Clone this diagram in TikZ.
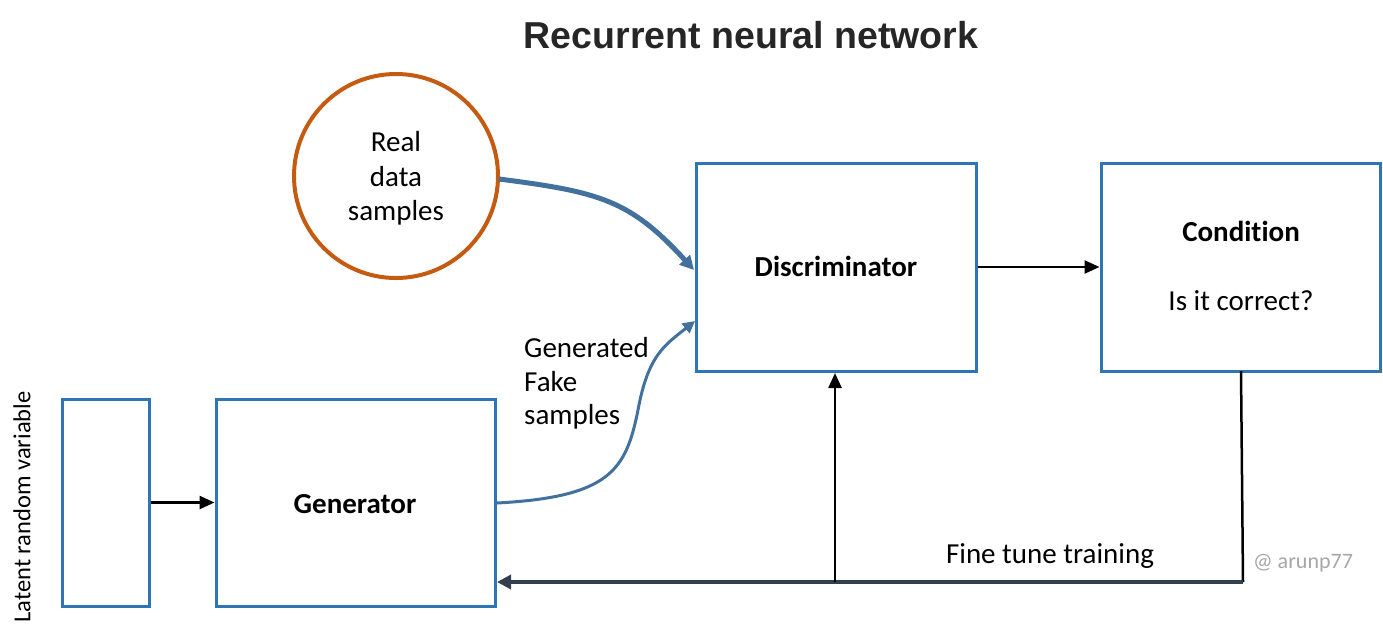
\documentclass[tikz,border=0pt]{standalone}
\usepackage{fontspec}
\setmainfont{Carlito}[Ligatures=NoCommon]
\newfontfamily\titlefont{Liberation Sans}
\usetikzlibrary{arrows.meta}
\definecolor{boxblue}{HTML}{2E75B6}
\definecolor{circorange}{HTML}{C55A11}
\definecolor{curveblue}{HTML}{41719C}
\definecolor{darkline}{HTML}{333F50}
\definecolor{titlegray}{HTML}{262626}
\definecolor{wmgray}{HTML}{A6A6A6}
\tikzset{
  blk/.style={draw=boxblue, line width=3pt, inner sep=0pt},
  txt/.style={font=\fontsize{29}{35}\selectfont, inner sep=0pt, anchor=base},
  bold/.style={font=\fontsize{29}{35}\selectfont\bfseries, inner sep=0pt, anchor=base},
  blackarrow/.style={draw=black, line width=2.5pt, -{Triangle[length=15pt,width=13pt]}},
}
\begin{document}
\begin{tikzpicture}[x=1pt,y=-1pt]
\useasboundingbox (0,0) rectangle (1383,641);
% title
\node[font=\titlefont\fontsize{37.5}{42}\selectfont\bfseries, text=titlegray, inner sep=0pt] (title) at (751,35) {Recurrent neural network};
% circle
\node[draw=circorange, line width=4pt, circle, minimum size=204pt, inner sep=0pt] (real) at (396,176) {};
\node[txt] (real1) at (396,151) {Real};
\node[txt] (real2) at (396,186) {data};
\node[txt] (real3) at (396,220) {samples};
% boxes
\node[blk, minimum width=280pt, minimum height=208pt] (disc) at (836,267) {};
\node[bold] (disctxt) at (836,276) {Discriminator};
\node[blk, minimum width=279pt, minimum height=208pt] (cond) at (1240.5,267) {};
\node[bold] (condtxt) at (1241,241) {Condition};
\node[txt] (condq) at (1241,310) {Is it correct?};
\node[blk, minimum width=87pt, minimum height=207pt] (latent) at (105.5,502.5) {};
\node[blk, minimum width=279pt, minimum height=207pt] (gen) at (355.5,502.5) {};
\node[bold] (gentxt) at (355,513) {Generator};
\node[font=\fontsize{24.5}{28}\selectfont, rotate=90, inner sep=0pt] (lrv) at (22,507) {Latent random variable};
% arrows
\draw[blackarrow] (latent.east) -- (gen.west);
\draw[blackarrow] (disc.east) -- (cond.west);
% real data curve
\coordinate (rd1) at (499,179);
\draw[draw=curveblue, line width=5pt, -{Triangle[length=14pt,width=14pt]}] (rd1) .. controls (600,192) and (630,200) .. (694,270);
% fake curve
\coordinate (fk1) at (497,503);
\coordinate (fkm) at (638,410);
\coordinate (fk2) at (695,321);
\draw[draw=curveblue, line width=3pt, -{Triangle[length=12pt,width=12pt]}] (fk1) .. controls (610,497) and (626,470) .. (fkm) .. controls (648,355) and (665,345) .. (fk2);
\node[txt, anchor=base west] (fake1) at (524,357) {Generated};
\node[txt, anchor=base west] (fake2) at (524,391) {Fake};
\node[txt, anchor=base west] (fake3) at (524,424) {samples};
% feedback
\coordinate (cb) at (1243,582);
\coordinate (db) at (835,582);
\draw[draw=black, line width=2.5pt] (1241,371) -- (cb);
\draw[draw=darkline, line width=4.5pt, -{Triangle[length=14pt,width=14pt]}] (cb) -- (497,582);
\draw[blackarrow] (db) -- (835,373);
\node[txt] (fine) at (1050,563) {Fine tune training};
\node[font=\fontsize{22}{26}\selectfont, text=wmgray, inner sep=0pt, anchor=base] (wm) at (1303,568) {@ arunp77};
\end{tikzpicture}
\end{document}
